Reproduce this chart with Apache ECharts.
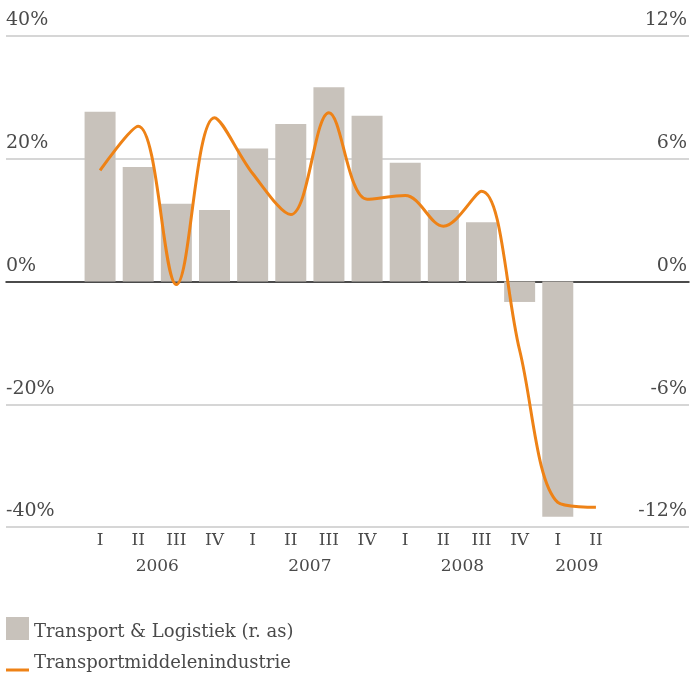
<!DOCTYPE html>
<html>
<head>
<meta charset="utf-8">
<script src="https://cdn.jsdelivr.net/npm/echarts@6/dist/echarts.min.js"></script>
<style>
  html, body { margin: 0; padding: 0; background: #fff; }
  #main { width: 690px; height: 676px; }
</style>
</head>
<body>
<div id="main"></div>
<script>
// kwartalen
var quarters = ['I', 'II', 'III', 'IV', 'I', 'II', 'III', 'IV', 'I', 'II', 'III', 'IV', 'I', 'II'];
// jaartallen, geplaatst op de grens tussen kwartalen (0 = links van eerste kwartaal)
var yearPos = [2, 6, 10, 13];
var yearNames = ['2006', '2007', '2008', '2009'];

// Transport & Logistiek (rechter as, %)
var logistiek = [8.3, 5.6, 3.8, 3.5, 6.5, 7.7, 9.5, 8.1, 5.8, 3.5, 2.9, -1.0, -11.5, null];
// Transportmiddelenindustrie (linker as, %)
var industrie = [18.1, 25.3, -0.5, 26.7, 17.6, 10.9, 27.5, 13.4, 14.0, 9.0, 14.7, -11.2, -36.0, -36.8];

var font = 'DejaVu Serif';
var textColor = '#4a4a4a';

var chart = echarts.init(document.getElementById('main'), null, { renderer: 'canvas' });

var option = {
  animation: false,
  textStyle: { fontFamily: font },
  grid: [
    // volle breedte, voor rasterlijnen en aslabels
    { left: 6, right: 0, top: 36, height: 491, containLabel: false },
    // datagebied
    { left: 81, width: 534, top: 36, height: 491, containLabel: false }
  ],
  legend: [
    {
      left: 6, top: 617, padding: 0, itemWidth: 23, itemHeight: 23, itemGap: 7,
      icon: 'rect',
      data: ['Transport & Logistiek (r. as)'],
      formatter: '{t|{name}}',
      textStyle: {
        fontFamily: font, fontSize: 18, color: textColor,
        rich: { t: { fontFamily: font, fontSize: 18, color: textColor, padding: [7, 0, 0, 0] } }
      }
    },
    {
      left: 6, top: 654, padding: 0, itemWidth: 23, itemHeight: 3, itemGap: 7,
      icon: 'rect',
      data: ['Transportmiddelenindustrie'],
      formatter: '{t|{name}}',
      textStyle: {
        fontFamily: font, fontSize: 18, color: textColor,
        rich: { t: { fontFamily: font, fontSize: 18, color: textColor, padding: [0, 0, 14, 0] } }
      }
    }
  ],
  xAxis: [
    {
      // nullijn over de volle breedte
      gridIndex: 0, type: 'value', min: 0, max: 1,
      axisLine: { show: true, onZero: true, onZeroAxisIndex: 0, lineStyle: { color: '#1e1e1e', width: 1.5 } },
      axisTick: { show: false }, axisLabel: { show: false }, splitLine: { show: false }
    },
    {
      gridIndex: 1, type: 'category', data: quarters,
      axisLine: { show: false }, axisTick: { show: false },
      axisLabel: { fontFamily: font, fontSize: 17, color: textColor, margin: 5, interval: 0 }
    },
    {
      gridIndex: 1, type: 'value', min: 0, max: 14, interval: 1, position: 'bottom',
      axisLine: { show: false }, axisTick: { show: false }, splitLine: { show: false },
      axisLabel: {
        fontFamily: font, fontSize: 17, color: textColor, margin: 31,
        showMinLabel: true, showMaxLabel: true,
        formatter: function (v) {
          var i = yearPos.indexOf(Math.round(v));
          return i >= 0 ? yearNames[i] : '';
        }
      }
    }
  ],
  yAxis: [
    {
      gridIndex: 0, type: 'value', min: -40, max: 40, interval: 20, position: 'left',
      axisLine: { show: false }, axisTick: { show: false },
      splitLine: { lineStyle: { color: '#c8c8c8', width: 1.5 } },
      axisLabel: {
        inside: true, margin: 0, align: 'left', verticalAlign: 'bottom', padding: [0, 0, 6, 0],
        fontFamily: font, fontSize: 19, color: textColor,
        formatter: '{value}%'
      }
    },
    {
      gridIndex: 0, type: 'value', min: -12, max: 12, interval: 6, position: 'right',
      axisLine: { show: false }, axisTick: { show: false }, splitLine: { show: false },
      axisLabel: {
        inside: true, margin: 2, align: 'right', verticalAlign: 'bottom', padding: [0, 0, 6, 0],
        fontFamily: font, fontSize: 19, color: textColor,
        formatter: '{value}%'
      }
    },
    {
      gridIndex: 1, type: 'value', min: -40, max: 40, interval: 20, show: false
    },
    {
      gridIndex: 1, type: 'value', min: -12, max: 12, interval: 6, show: false
    }
  ],
  series: [
    {
      name: 'Transport & Logistiek (r. as)',
      type: 'bar',
      xAxisIndex: 1, yAxisIndex: 3,
      data: logistiek,
      barWidth: 31,
      itemStyle: { color: '#c8c2bb' }
    },
    {
      name: 'Transportmiddelenindustrie',
      type: 'line',
      xAxisIndex: 1, yAxisIndex: 2,
      data: industrie,
      smooth: 0.35,
      symbol: 'none',
      lineStyle: { color: '#ee8216', width: 3 },
      itemStyle: { color: '#ee8216' }
    }
  ]
};

chart.setOption(option);
</script>
</body>
</html>
